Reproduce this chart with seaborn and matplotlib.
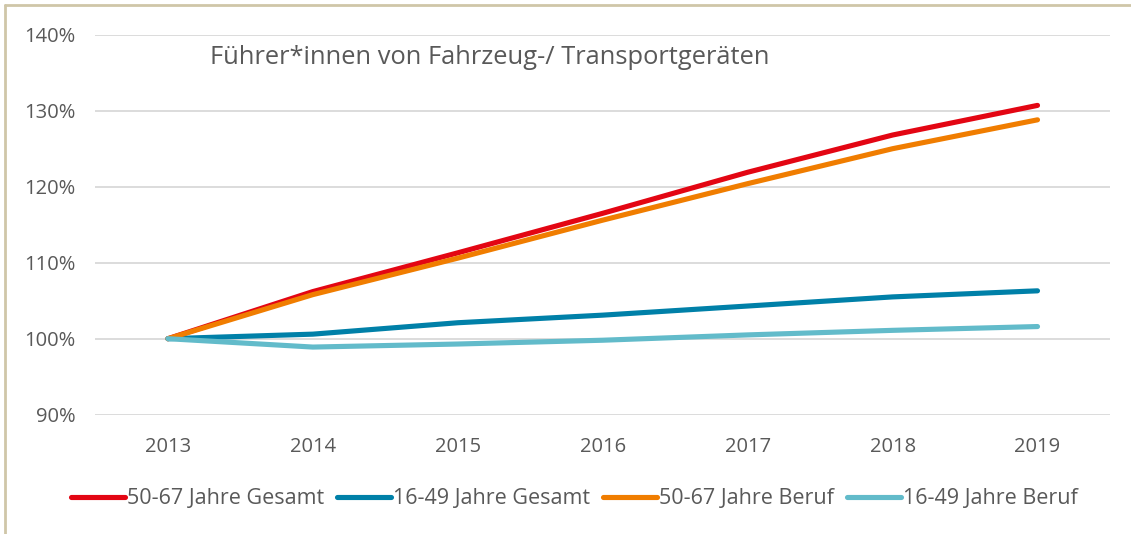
import pandas as pd
import numpy as np
import matplotlib
matplotlib.use("Agg")
import matplotlib.pyplot as plt
import seaborn as sns
from matplotlib.lines import Line2D

# values (index, 2013 = 100%)
years = ["2013", "2014", "2015", "2016", "2017", "2018", "2019"]
gesamt_50_67 = [100.0, 106.2, 111.3, 116.5, 121.9, 126.8, 130.7]
gesamt_16_49 = [100.0, 100.6, 102.1, 103.1, 104.3, 105.5, 106.3]
beruf_50_67 = [100.0, 105.8, 110.6, 115.6, 120.4, 125.0, 128.8]
beruf_16_49 = [100.0, 98.9, 99.3, 99.8, 100.5, 101.1, 101.6]

series_names = ["50-67 Jahre Gesamt", "16-49 Jahre Gesamt", "50-67 Jahre Beruf", "16-49 Jahre Beruf"]
colors = ["#E30613", "#0080A8", "#F07D00", "#62BBCA"]
title = "Führer*innen von Fahrzeug-/ Transportgeräten"

df = pd.DataFrame({
    "Jahr": years * 4,
    "Wert": gesamt_50_67 + gesamt_16_49 + beruf_50_67 + beruf_16_49,
    "Reihe": np.repeat(series_names, len(years)),
})

sns.set_theme(style="white")
plt.rcParams["font.family"] = ["Open Sans", "DejaVu Sans"]
text_col = "#595959"
lw = 3.7

fig = plt.figure(figsize=(11.31, 5.34), dpi=100)
ax = fig.add_axes([0.0844, 0.2234, 0.897, 0.7116])

sns.lineplot(data=df, x="Jahr", y="Wert", hue="Reihe", hue_order=series_names,
             palette=colors, linewidth=lw, ax=ax, legend=False,
             solid_capstyle="round")

ax.set_xlim(-0.5, 6.5)
ax.set_ylim(90, 140)
ax.set_yticks([90, 100, 110, 120, 130, 140])
ax.set_yticklabels([f"{v}%" for v in range(90, 141, 10)])
ax.yaxis.grid(True, color="#D9D9D9", linewidth=1.3)
ax.xaxis.grid(False)
ax.set_axisbelow(True)
for s in ax.spines.values():
    s.set_visible(False)
ax.tick_params(axis="y", labelsize=14.5, colors=text_col, pad=14.5, length=0)
ax.tick_params(axis="x", labelsize=14.5, colors=text_col, pad=16, length=0)
ax.set_xlabel("")
ax.set_ylabel("")

ax.text(0.186, 0.893, title, transform=fig.transFigure, fontsize=18.4,
        color=text_col, va="center", ha="left")

handles = [Line2D([0], [0], color=c, linewidth=lw, solid_capstyle="round") for c in colors]
fig.legend(handles, series_names, loc="center", bbox_to_anchor=(0.508, 0.066), ncol=4,
           frameon=False, fontsize=15.5, labelcolor=text_col, handlelength=2.5,
           handletextpad=0.1, columnspacing=0.6)

# tan frame on top and left edge
fig.add_artist(Line2D([0.004, 1.0], [0.99, 0.99], transform=fig.transFigure, color="#CFC6A8", linewidth=2))
fig.add_artist(Line2D([0.004, 0.004], [0.0, 0.99], transform=fig.transFigure, color="#CFC6A8", linewidth=2))

fig.savefig("out.png", dpi=100)
